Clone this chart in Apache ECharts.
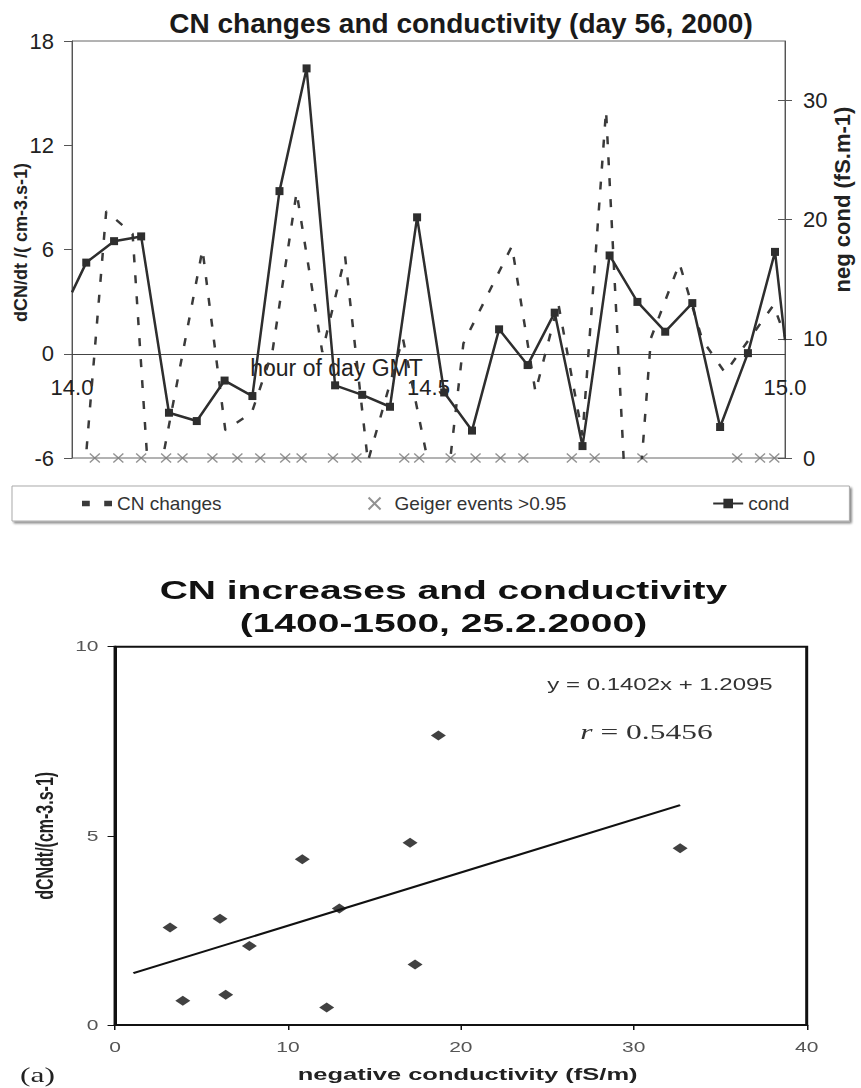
<!DOCTYPE html>
<html>
<head>
<meta charset="utf-8">
<script src="https://cdn.jsdelivr.net/npm/echarts@6/dist/echarts.min.js"></script>
<style>
  html, body { margin: 0; padding: 0; background: #fff; }
  #topChart { position: absolute; left: 0; top: 0; width: 861px; height: 540px; }
  /* the scanned lower panel is stretched sideways, so draw it narrow and stretch it */
  #scatterChart { position: absolute; left: 0; top: 540px; width: 574px; height: 548px;
                  transform: scaleX(1.5); transform-origin: 0 0; }
</style>
</head>
<body>
<div id="topChart"></div>
<div id="scatterChart"></div>
<script>
// ---- time series, day 56 2000 (hours GMT) ----
var hourTicks = [14.0, 14.5, 15.0];
var condTicks = [0, 10, 20, 30];

var cnTimes = [14.018, 14.048, 14.085, 14.111, 14.183, 14.215, 14.252, 14.281, 14.315, 14.351,
               14.383, 14.415, 14.464, 14.519, 14.549, 14.617, 14.650, 14.682, 14.716, 14.749,
               14.784, 14.812, 14.852, 14.884, 14.916, 14.984, 15.0];
var cnValues = [-6.7, 8.2, 6.9, -9.5, 6.0, -4.4, -3.4, 0.1, 9.3, 0.1,
                5.6, -6.2, 0.9, -10.2, 0.6, 6.2, -2.2, 2.9, -4.7, 14.0,
                -14.4, 0.9, 5.2, 0.8, -1.1, 2.8, 1.0];

var condTimes = [14.0, 14.020, 14.059, 14.097, 14.136, 14.175, 14.214, 14.253, 14.291, 14.329,
                 14.369, 14.407, 14.446, 14.484, 14.522, 14.561, 14.599, 14.639, 14.677, 14.716,
                 14.754, 14.793, 14.832, 14.870, 14.909, 14.948, 14.986, 15.0];
var condValues = [13.9, 16.4, 18.2, 18.6, 3.8, 3.1, 6.5, 5.2, 22.4, 32.7,
                  6.1, 5.3, 4.3, 20.2, 5.5, 2.3, 10.8, 7.8, 12.2, 1.0,
                  17.0, 13.1, 10.6, 13.0, 2.6, 8.8, 17.3, 9.9];

var geigerTimes = [14.032, 14.065, 14.097, 14.132, 14.155, 14.197, 14.232, 14.264, 14.299, 14.322,
                   14.366, 14.399, 14.466, 14.487, 14.531, 14.566, 14.601, 14.633, 14.701, 14.733,
                   14.800, 14.933, 14.965, 14.985];
var geigerLevel = 0;

// ---- scatter, 1400-1500 25.2.2000 ----
var negCond = [3.18, 3.92, 6.07, 6.40, 7.77, 10.83, 12.24, 12.97, 17.06, 17.35, 18.70, 32.68];
var cnIncrease = [2.58, 0.64, 2.81, 0.80, 2.09, 4.38, 0.46, 3.08, 4.82, 1.60, 7.65, 4.67];
var trendX = [1.06, 32.68];
var trendY = [1.37, 5.81];

var FONT = 'Liberation Sans';
var SERIF = 'Liberation Serif';
var crossPath = 'path://M0,0L10,10M10,0L0,10';
var twoDashPath = 'path://M0,0H7V5H0Z M20,0H27V5H20Z';

var topChart = echarts.init(document.getElementById('topChart'), null, { renderer: 'svg' });

var condData = condTimes.map(function (t, i) {
  var item = { value: [t, condValues[i]] };
  if (i === 0 || i === condTimes.length - 1) item.symbol = 'none'; // line runs on past the frame
  return item;
});

var topOption = {
  animation: false,
  textStyle: { fontFamily: FONT },
  title: {
    text: 'CN changes and conductivity (day 56, 2000)',
    left: 461, top: 9, padding: 0, textAlign: 'center',
    textStyle: { fontSize: 28, fontWeight: 'bold', color: '#1a1a1a', fontFamily: FONT }
  },
  grid: { left: 72, top: 41, width: 718, height: 417, show: true, borderColor: '#666', borderWidth: 1 },
  xAxis: {
    type: 'value', min: 14, max: 15, interval: 0.5,
    offset: -104, // axis sits on the zero of the left scale
    axisLine: { onZero: false, lineStyle: { color: '#444', width: 1 } },
    axisTick: { show: false },
    splitLine: { show: false },
    axisLabel: { fontSize: 22, color: '#222', margin: 22, customValues: hourTicks,
                 formatter: function (v) { return v.toFixed(1); } },
    name: 'hour of day GMT', nameLocation: 'middle', nameGap: 2, nameMoveOverlap: false,
    nameTextStyle: { fontSize: 23, color: '#222', padding: [0, 184, 0, 0] }
  },
  yAxis: [
    {
      type: 'value', min: -6, max: 18, interval: 6, position: 'left',
      axisLine: { show: true, lineStyle: { color: '#555' } },
      axisTick: { show: true, length: 8, lineStyle: { color: '#555' } },
      axisLabel: { fontSize: 22, color: '#222', margin: 18 },
      splitLine: { show: false },
      name: 'dCN/dt /( cm-3.s-1)', nameLocation: 'middle', nameGap: 42, nameMoveOverlap: false,
      nameTextStyle: { fontSize: 18, fontWeight: 'bold', color: '#222', padding: [0, 0, 0, 14] }
    },
    {
      type: 'value', min: 0, max: 35, position: 'right',
      axisLine: { show: true, lineStyle: { color: '#555' } },
      axisTick: { show: true, length: 7, customValues: condTicks, lineStyle: { color: '#555' } },
      axisLabel: { fontSize: 22, color: '#222', margin: 18, customValues: condTicks },
      splitLine: { show: false },
      name: 'neg cond (fS.m-1)', nameLocation: 'middle', nameGap: 46, nameMoveOverlap: false,
      nameTextStyle: { fontSize: 22, fontWeight: 'bold', color: '#222', padding: [0, 0, 0, 100] }
    },
    {
      // inner half of the crossing ticks on the right axis
      type: 'value', min: 0, max: 35, position: 'right',
      axisLine: { show: false },
      axisTick: { show: true, inside: true, length: 7, customValues: condTicks, lineStyle: { color: '#555' } },
      axisLabel: { show: false },
      splitLine: { show: false }
    }
  ],
  legend: {
    left: 12, top: 486,
    padding: [8, 60, 8, 70],
    itemGap: 146, itemWidth: 30, itemHeight: 12,
    textStyle: { fontSize: 19, color: '#333', fontFamily: FONT },
    borderColor: '#aaa', borderWidth: 1, backgroundColor: '#fff',
    shadowColor: 'rgba(0,0,0,0.45)', shadowOffsetX: 2, shadowOffsetY: 2, shadowBlur: 2,
    data: [
      { name: 'CN changes', icon: twoDashPath },
      { name: 'Geiger events >0.95' },
      { name: 'cond' }
    ]
  },
  series: [
    {
      name: 'CN changes', type: 'line', yAxisIndex: 0,
      data: cnTimes.map(function (t, i) { return [t, cnValues[i]]; }),
      symbol: 'none',
      lineStyle: { color: '#3a3a3a', width: 2.5, type: [8, 13] },
      itemStyle: { color: '#3a3a3a' }
    },
    {
      name: 'Geiger events >0.95', type: 'scatter', yAxisIndex: 1, clip: false,
      data: geigerTimes.map(function (t) { return [t, geigerLevel]; }),
      symbol: crossPath, symbolSize: [10, 9],
      itemStyle: { color: '#777', borderColor: '#777', borderWidth: 1.3 }
    },
    {
      name: 'cond', type: 'line', yAxisIndex: 1,
      data: condData,
      symbol: 'rect', symbolSize: 8, showAllSymbol: true,
      lineStyle: { color: '#2e2e2e', width: 2.5 },
      itemStyle: { color: '#2e2e2e' }
    }
  ]
};
topChart.setOption(topOption);

// ---- lower panel ----
var scatterChart = echarts.init(document.getElementById('scatterChart'), null, { renderer: 'svg' });

var scatterOption = {
  animation: false,
  textStyle: { fontFamily: FONT },
  title: [
    {
      text: 'CN increases and conductivity\n(1400-1500, 25.2.2000)',
      left: 295.6, top: 33, padding: 0, textAlign: 'center',
      textStyle: { fontSize: 26, fontWeight: 'bold', lineHeight: 33, color: '#111', fontFamily: FONT }
    },
    {
      text: 'y = 0.1402x + 1.2095',
      left: 440, top: 137, padding: 0, textAlign: 'center',
      textStyle: { fontSize: 16, fontWeight: 'normal', color: '#333', fontFamily: FONT }
    },
    {
      text: '{i|r} = 0.5456',
      left: 431, top: 181, padding: 0, textAlign: 'center',
      textStyle: {
        fontSize: 21, fontWeight: 'normal', color: '#333', fontFamily: SERIF,
        rich: { i: { fontSize: 21, fontStyle: 'italic', color: '#333', fontFamily: SERIF } }
      }
    },
    {
      text: '(a)',
      left: 25, top: 524, padding: 0, textAlign: 'center',
      textStyle: { fontSize: 21, fontWeight: 'normal', color: '#222', fontFamily: SERIF }
    }
  ],
  grid: { left: 76.7, top: 106.7, width: 461.1, height: 379.3, show: true, borderColor: '#111', borderWidth: 2 },
  xAxis: {
    type: 'value', min: 0, max: 40, interval: 10,
    axisLine: { onZero: false, lineStyle: { color: '#111', width: 2 } },
    axisTick: { show: true, length: 5, lineStyle: { color: '#111' } },
    axisLabel: { fontSize: 14, color: '#555', margin: 15 },
    splitLine: { show: false },
    name: 'negative conductivity (fS/m)', nameLocation: 'middle', nameGap: 41, nameMoveOverlap: false,
    nameTextStyle: { fontSize: 17, fontWeight: 'bold', color: '#222', padding: [0, 0, 0, 9] }
  },
  yAxis: {
    type: 'value', min: 0, max: 10, interval: 5,
    axisLine: { lineStyle: { color: '#111', width: 2 } },
    axisTick: { show: true, length: 5, lineStyle: { color: '#111' } },
    axisLabel: { fontSize: 14, color: '#555', margin: 11 },
    splitLine: { show: false },
    name: 'dCNdt/(cm-3.s-1)', nameLocation: 'middle', nameGap: 39, nameMoveOverlap: false,
    nameTextStyle: { fontSize: 16, fontWeight: 'bold', color: '#222' }
  },
  series: [
    {
      name: 'trend', type: 'line',
      data: trendX.map(function (x, i) { return [x, trendY[i]]; }),
      symbol: 'none',
      lineStyle: { color: '#111', width: 2 }
    },
    {
      name: 'CN increases', type: 'scatter',
      data: negCond.map(function (x, i) { return [x, cnIncrease[i]]; }),
      symbol: 'diamond', symbolSize: [10, 10],
      itemStyle: { color: '#111' }
    }
  ]
};
scatterChart.setOption(scatterOption);

window.addEventListener('resize', function () {
  topChart.resize();
  scatterChart.resize();
});
</script>
</body>
</html>
